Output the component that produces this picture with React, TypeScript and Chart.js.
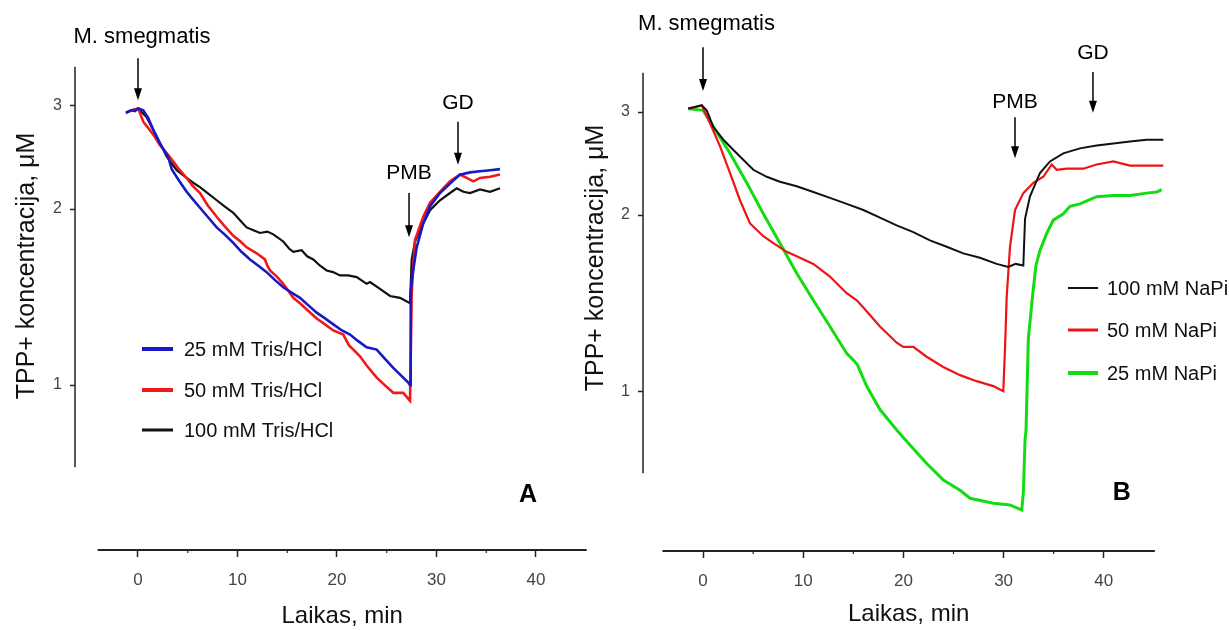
import React, { useEffect, useRef } from 'react';
import { Chart, registerables } from 'chart.js';

Chart.register(...registerables);

// ---------- shared axis content ----------
const X_TICKS = [0, 10, 20, 30, 40];
const X_MINOR_TICKS = [5, 15, 25, 35];
const Y_TICKS = [1, 2, 3];
const X_AXIS_SPAN = [-4.05, 45.1];
const Y_AXIS_SPAN = [0.724, 3.5];
const X_TITLE = 'Laikas, min';
const Y_TITLE = 'TPP+ koncentracija, μM';

// ---------- Panel A (Tris/HCl) ----------
const A_LABELS = ['25 mM Tris/HCl', '50 mM Tris/HCl', '100 mM Tris/HCl'];

const A_T_25 = [-1.21, -0.9, -0.64, -0.3, 0.03, 0.53, 1.04, 1.5, 2.21, 3.05, 3.39, 4.1, 4.89, 5.5, 6.23, 7.0, 7.91, 8.7, 9.58, 10.4, 11.26, 12.1, 12.93, 13.8, 14.6, 15.4, 16.28, 17.1, 17.96, 18.8, 19.63, 20.5, 21.31, 22.1, 22.98, 23.99, 24.8, 25.66, 26.4, 27.17, 27.34, 27.41, 27.51, 28.01, 28.67, 29.35, 30.35, 31.36, 32.36, 33.37, 34.37, 35.4, 36.38];
const A_V_25 = [2.92, 2.94, 2.95, 2.94, 2.97, 2.95, 2.86, 2.74, 2.59, 2.45, 2.34, 2.24, 2.14, 2.08, 2.01, 1.94, 1.86, 1.81, 1.75, 1.69, 1.64, 1.6, 1.56, 1.51, 1.47, 1.44, 1.41, 1.37, 1.33, 1.3, 1.27, 1.24, 1.22, 1.19, 1.16, 1.15, 1.11, 1.07, 1.04, 1.01, 1.0, 1.44, 1.51, 1.72, 1.89, 2.02, 2.13, 2.21, 2.29, 2.31, 2.32, 2.33, 2.34];

const A_T_50 = [-1.21, -0.64, 0.03, 0.53, 1.04, 1.54, 2.21, 2.9, 3.55, 4.2, 4.89, 5.5, 6.23, 7.0, 7.91, 8.7, 9.58, 10.3, 10.92, 11.93, 12.76, 13.0, 13.27, 14.0, 14.6, 15.61, 16.28, 17.1, 17.96, 18.8, 19.63, 20.63, 21.2, 21.64, 22.31, 22.98, 23.99, 24.8, 25.66, 26.66, 27.34, 27.51, 27.84, 28.67, 29.35, 30.35, 31.36, 32.36, 33.04, 33.7, 34.37, 35.4, 36.38];
const A_V_50 = [2.92, 2.95, 2.97, 2.82, 2.75, 2.68, 2.57, 2.49, 2.41, 2.33, 2.26, 2.19, 2.13, 2.03, 1.94, 1.87, 1.8, 1.76, 1.72, 1.68, 1.64, 1.6, 1.57, 1.53, 1.49, 1.41, 1.38, 1.34, 1.3, 1.27, 1.24, 1.22, 1.17, 1.15, 1.12, 1.08, 1.03, 1.0, 0.97, 0.97, 0.94, 1.44, 1.77, 1.94, 2.05, 2.14, 2.23, 2.29, 2.26, 2.23, 2.26, 2.27, 2.29];

const A_T_100 = [-1.21, -0.64, 0.03, 0.87, 1.88, 2.88, 3.89, 4.89, 5.5, 6.23, 7.0, 7.91, 8.7, 9.58, 10.3, 10.92, 11.6, 12.26, 13.0, 13.6, 14.6, 15.2, 15.61, 16.45, 17.0, 17.62, 18.3, 18.96, 19.6, 20.3, 21.1, 21.98, 22.98, 23.32, 24.32, 25.33, 26.33, 27.34, 27.51, 27.84, 28.67, 29.35, 30.35, 31.36, 32.03, 32.7, 33.37, 34.37, 35.38, 36.38];
const A_V_100 = [2.92, 2.95, 2.97, 2.87, 2.66, 2.46, 2.33, 2.26, 2.22, 2.18, 2.13, 2.07, 2.02, 1.97, 1.91, 1.86, 1.84, 1.82, 1.83, 1.81, 1.76, 1.71, 1.69, 1.7, 1.66, 1.64, 1.6, 1.57, 1.56, 1.54, 1.54, 1.53, 1.49, 1.5, 1.46, 1.42, 1.41, 1.38, 1.64, 1.76, 1.89, 1.99, 2.07, 2.13, 2.17, 2.14, 2.13, 2.16, 2.14, 2.17];

// ---------- Panel B (NaPi) ----------
const B_LABELS = ['100 mM NaPi', '50 mM NaPi', '25 mM NaPi'];

const B_T_100 = [-1.47, -0.13, 0.37, 1.03, 2.03, 3.36, 5.02, 6.36, 7.68, 9.35, 11.01, 12.67, 14.34, 16.0, 17.66, 19.33, 20.99, 22.65, 24.32, 25.98, 27.64, 29.31, 30.47, 31.2, 31.97, 32.14, 32.63, 33.63, 34.63, 35.96, 37.62, 39.29, 40.95, 42.61, 44.28, 45.94];
const B_V_100 = [3.04, 3.08, 3.02, 2.83, 2.69, 2.55, 2.39, 2.325, 2.28, 2.24, 2.19, 2.14, 2.09, 2.04, 1.98, 1.92, 1.87, 1.81, 1.765, 1.72, 1.69, 1.65, 1.63, 1.65, 1.64, 1.97, 2.15, 2.36, 2.47, 2.55, 2.6, 2.63, 2.65, 2.67, 2.69, 2.69];

const B_T_50 = [-1.47, -0.13, 0.7, 1.7, 2.69, 3.69, 4.69, 6.02, 7.02, 8.35, 9.35, 11.01, 12.67, 14.34, 15.34, 16.0, 17.66, 19.33, 19.99, 20.99, 22.32, 23.98, 25.65, 27.31, 28.97, 29.97, 30.14, 30.31, 30.64, 31.14, 31.97, 32.97, 33.97, 34.8, 35.3, 36.3, 37.95, 39.29, 40.95, 42.61, 44.28, 45.94];
const B_V_50 = [3.04, 3.08, 2.87, 2.62, 2.36, 2.12, 1.935, 1.84, 1.79, 1.73, 1.7, 1.65, 1.57, 1.47, 1.43, 1.39, 1.29, 1.21, 1.19, 1.19, 1.145, 1.1, 1.065, 1.04, 1.02, 1.0, 1.18, 1.45, 1.765, 2.04, 2.18, 2.27, 2.325, 2.44, 2.39, 2.4, 2.4, 2.44, 2.47, 2.43, 2.43, 2.43];

const B_T_25 = [-1.47, 0.0, 1.03, 2.69, 4.36, 6.02, 7.68, 9.35, 11.01, 12.67, 14.34, 15.0, 15.4, 16.33, 17.66, 19.33, 20.66, 22.32, 23.98, 25.65, 26.65, 28.97, 30.64, 31.81, 31.97, 32.14, 32.24, 32.47, 32.9, 33.23, 33.63, 34.3, 34.96, 35.96, 36.63, 37.62, 39.29, 40.95, 42.61, 44.28, 45.28, 45.78];
const B_V_25 = [3.04, 3.02, 2.83, 2.55, 2.27, 2.01, 1.79, 1.59, 1.43, 1.29, 1.16, 1.13, 1.11, 1.02, 0.93, 0.858, 0.809, 0.752, 0.705, 0.677, 0.656, 0.643, 0.639, 0.626, 0.669, 0.825, 0.858, 1.23, 1.46, 1.64, 1.74, 1.86, 1.96, 2.01, 2.07, 2.09, 2.15, 2.16, 2.16, 2.18, 2.19, 2.21];

// ---------- event arrows (time, label and arrow extent in data units) ----------
const A_EVENTS = [
  { text: 'M. smegmatis', t: 0, textT: 0.4, textV: 3.94, topV: 3.62, tipV: 3.07, size: 22 },
  { text: 'PMB', t: 27.24, textT: 27.24, textV: 2.3, topV: 2.13, tipV: 1.79, size: 21 },
  { text: 'GD', t: 32.16, textT: 32.16, textV: 3.035, topV: 2.82, tipV: 2.38, size: 21 },
];
const B_EVENTS = [
  { text: 'M. smegmatis', t: 0, textT: 0.35, textV: 4.24, topV: 3.87, tipV: 3.26, size: 22 },
  { text: 'PMB', t: 31.14, textT: 31.14, textV: 3.12, topV: 2.94, tipV: 2.5, size: 21 },
  { text: 'GD', t: 38.92, textT: 38.92, textV: 3.78, topV: 3.51, tipV: 2.99, size: 21 },
];

const FONT = "Arial, 'Liberation Sans', Helvetica, sans-serif";
const W = 1229;
const H = 630;

const PANEL_A = {
  id: 'A',
  series: [
    { label: A_LABELS[0], t: A_T_25, v: A_V_25, color: '#1818c8', width: 2.6, legendWidth: 4 },
    { label: A_LABELS[1], t: A_T_50, v: A_V_50, color: '#f01818', width: 2.6, legendWidth: 4 },
    { label: A_LABELS[2], t: A_T_100, v: A_V_100, color: '#111111', width: 2.2, legendWidth: 3 },
  ],
  padLeft: 0, padRight: 634, yWidth: 75, xHeight: 80,
  xMin: -6.33, xMax: 45.93, yMin: 0.5225, yMax: 3.89,
  yTitle: { x: 27, y: 266 },
  xTitleY: 616,
  legend: { x1: 142, x2: 173, textX: 184, ys: [349, 390, 430] },
  letter: { text: 'A', t: 39.2, v: 0.649 },
  events: A_EVENTS,
};

const PANEL_B = {
  id: 'B',
  series: [
    { label: B_LABELS[0], t: B_T_100, v: B_V_100, color: '#111111', width: 2, legendWidth: 2 },
    { label: B_LABELS[1], t: B_T_50, v: B_V_50, color: '#ee1414', width: 2.2, legendWidth: 3 },
    { label: B_LABELS[2], t: B_T_25, v: B_V_25, color: '#14dc14', width: 3, legendWidth: 4 },
  ],
  padLeft: 575, padRight: 14, yWidth: 68, xHeight: 79,
  xMin: -5.99, xMax: 51.1, yMin: 0.533, yMax: 3.983,
  yTitle: { x: 596, y: 258 },
  xTitleY: 614,
  legend: { x1: 1068, x2: 1098, textX: 1107, ys: [288, 330, 373] },
  letter: { text: 'B', t: 41.8, v: 0.67 },
  events: B_EVENTS,
};

function decorPlugin(p: any) {
  return {
    id: 'decor' + p.id,
    afterDraw(chart: any) {
      const { ctx, chartArea } = chart;
      const xs = chart.scales.x;
      const ys = chart.scales.y;
      ctx.save();
      // y axis line
      ctx.strokeStyle = '#222';
      ctx.lineWidth = 1.5;
      ctx.beginPath();
      ctx.moveTo(chartArea.left, ys.getPixelForValue(Y_AXIS_SPAN[1]));
      ctx.lineTo(chartArea.left, ys.getPixelForValue(Y_AXIS_SPAN[0]));
      ctx.stroke();
      // x axis line (detached)
      const x0 = xs.getPixelForValue(X_AXIS_SPAN[0]);
      const x1 = xs.getPixelForValue(X_AXIS_SPAN[1]);
      ctx.lineWidth = 2;
      ctx.beginPath();
      ctx.moveTo(x0, chartArea.bottom);
      ctx.lineTo(x1, chartArea.bottom);
      ctx.stroke();
      ctx.lineWidth = 1.2;
      X_MINOR_TICKS.forEach((t) => {
        const px = xs.getPixelForValue(t);
        ctx.beginPath();
        ctx.moveTo(px, chartArea.bottom);
        ctx.lineTo(px, chartArea.bottom + 3);
        ctx.stroke();
      });
      // x title
      ctx.fillStyle = '#111';
      ctx.textAlign = 'center';
      ctx.textBaseline = 'middle';
      ctx.font = `24px ${FONT}`;
      ctx.fillText(X_TITLE, (x0 + x1) / 2, p.xTitleY);
      // y title
      ctx.save();
      ctx.translate(p.yTitle.x, p.yTitle.y);
      ctx.rotate(-Math.PI / 2);
      ctx.font = `25px ${FONT}`;
      ctx.fillText(Y_TITLE, 0, 0);
      ctx.restore();
      // event arrows
      p.events.forEach((e: any) => {
        const ax = xs.getPixelForValue(e.t);
        const top = ys.getPixelForValue(e.topV);
        const tip = ys.getPixelForValue(e.tipV);
        ctx.strokeStyle = '#000';
        ctx.fillStyle = '#000';
        ctx.lineWidth = 1.5;
        ctx.beginPath();
        ctx.moveTo(ax, top);
        ctx.lineTo(ax, tip - 10);
        ctx.stroke();
        ctx.beginPath();
        ctx.moveTo(ax - 4, tip - 12);
        ctx.lineTo(ax + 4, tip - 12);
        ctx.lineTo(ax, tip);
        ctx.closePath();
        ctx.fill();
        ctx.font = `${e.size}px ${FONT}`;
        ctx.textAlign = 'center';
        ctx.textBaseline = 'middle';
        ctx.fillText(e.text, xs.getPixelForValue(e.textT), ys.getPixelForValue(e.textV));
      });
      // legend
      ctx.font = `20px ${FONT}`;
      ctx.textAlign = 'left';
      ctx.textBaseline = 'middle';
      chart.data.datasets.forEach((ds: any, i: number) => {
        const y = p.legend.ys[i];
        ctx.strokeStyle = ds.borderColor;
        ctx.lineWidth = p.series[i].legendWidth;
        ctx.beginPath();
        ctx.moveTo(p.legend.x1, y);
        ctx.lineTo(p.legend.x2, y);
        ctx.stroke();
        ctx.fillStyle = '#111';
        ctx.fillText(ds.label, p.legend.textX, y + 1);
      });
      // panel letter
      ctx.font = `bold 25px ${FONT}`;
      ctx.textAlign = 'center';
      ctx.fillStyle = '#000';
      ctx.fillText(p.letter.text, xs.getPixelForValue(p.letter.t), ys.getPixelForValue(p.letter.v));
      ctx.restore();
    },
  };
}

function makeConfig(p: any): any {
  return {
    type: 'line',
    data: {
      datasets: p.series.map((s: any) => ({
        label: s.label,
        data: s.t.map((t: number, i: number) => ({ x: t, y: s.v[i] })),
        borderColor: s.color,
        backgroundColor: s.color,
        borderWidth: s.width,
        pointRadius: 0,
        tension: 0,
        fill: false,
      })),
    },
    options: {
      animation: false,
      responsive: false,
      devicePixelRatio: 1,
      events: [],
      layout: { padding: { left: p.padLeft, right: p.padRight, top: 40, bottom: 0 } },
      plugins: { legend: { display: false }, tooltip: { enabled: false }, title: { display: false } },
      scales: {
        x: {
          type: 'linear',
          min: p.xMin,
          max: p.xMax,
          afterBuildTicks: (s: any) => { s.ticks = X_TICKS.map((v) => ({ value: v })); },
          afterFit: (s: any) => { s.height = p.xHeight; },
          border: { display: false },
          grid: { drawOnChartArea: false, drawTicks: true, tickLength: 7, tickColor: '#222', tickWidth: 1.5 },
          ticks: { color: '#444', font: { family: FONT, size: 17 }, padding: 13, maxRotation: 0, autoSkip: false },
        },
        y: {
          type: 'logarithmic',
          min: p.yMin,
          max: p.yMax,
          afterBuildTicks: (s: any) => { s.ticks = Y_TICKS.map((v) => ({ value: v })); },
          afterFit: (s: any) => { s.width = p.yWidth; },
          border: { display: false },
          grid: { drawOnChartArea: false, drawTicks: true, tickLength: 5, tickColor: '#222', tickWidth: 1.5 },
          ticks: { color: '#444', font: { family: FONT, size: 16 }, padding: 8, autoSkip: false, callback: (v: any) => String(v) },
        },
      },
    },
    plugins: [decorPlugin(p)],
  };
}

function Panel({ spec }: { spec: any }) {
  const ref = useRef<HTMLCanvasElement>(null);
  useEffect(() => {
    const chart = new Chart(ref.current as HTMLCanvasElement, makeConfig(spec));
    return () => chart.destroy();
  }, [spec]);
  return (
    <canvas
      ref={ref}
      width={W}
      height={H}
      style={{ position: 'absolute', left: 0, top: 0, width: W, height: H }}
    />
  );
}

export default function App() {
  return (
    <div style={{ position: 'fixed', left: 0, top: 0, width: W, height: H, background: '#fff', overflow: 'hidden' }}>
      <Panel spec={PANEL_A} />
      <Panel spec={PANEL_B} />
    </div>
  );
}
